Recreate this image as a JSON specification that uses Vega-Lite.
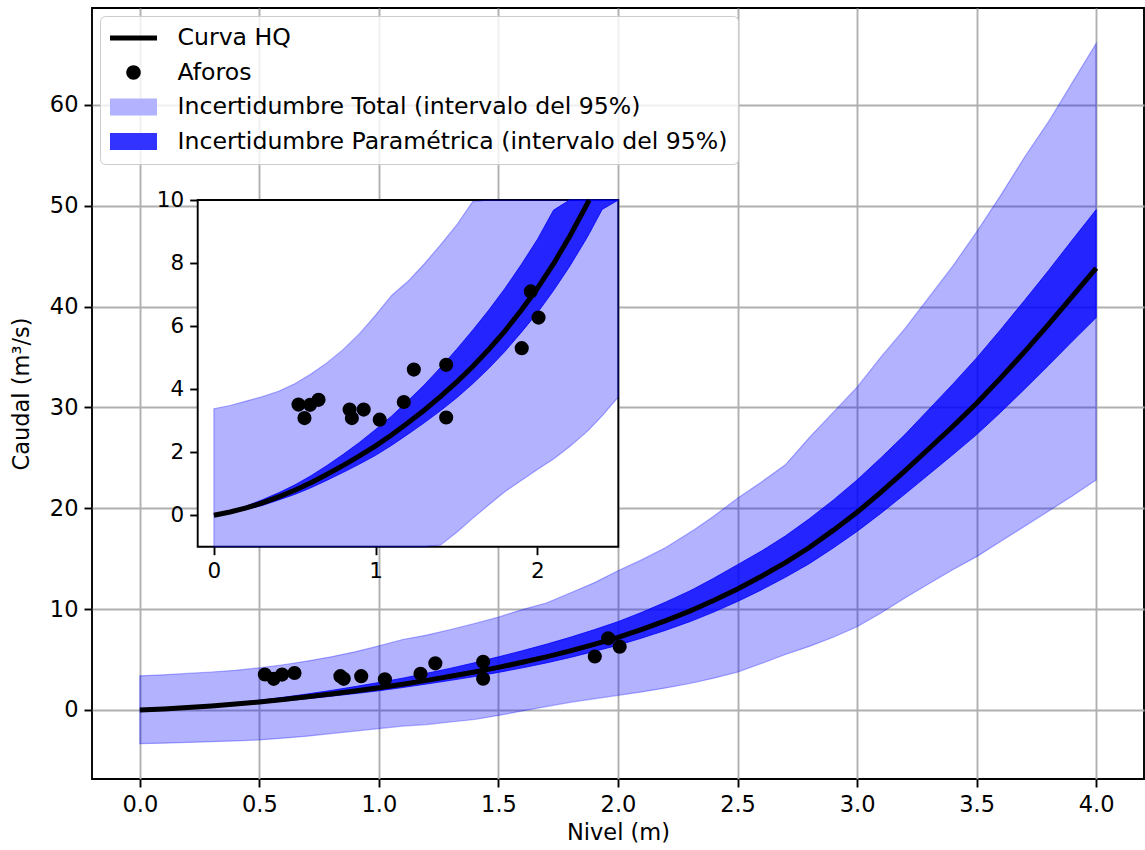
{
  "$schema": "https://vega.github.io/schema/vega-lite/v6.json",
  "width": 1052,
  "height": 771,
  "autosize": {"type": "none"},
  "padding": {"left": 92, "top": 8, "right": 1, "bottom": 71},
  "background": "white",
  "config": {
    "font": "DejaVu Sans",
    "view": {"stroke": "#000000", "strokeWidth": 1.9},
    "axis": {
      "labelFont": "DejaVu Sans", "labelFontSize": 22.5, "labelColor": "#000000",
      "titleFont": "DejaVu Sans", "titleFontSize": 22.5, "titleFontWeight": "normal", "titleColor": "#000000",
      "tickColor": "#000000", "tickSize": 8, "tickWidth": 1.9, "domain": false,
      "gridColor": "#b0b0b0", "gridWidth": 1.9, "gridOpacity": 1, "labelPadding": 6
    }
  },
  "datasets": {
    "curva": [
      {"h": 0.0, "q": 0.0, "pl": 0.0, "pu": 0.0, "tl": -3.35, "tu": 3.38},
      {"h": 0.1, "q": 0.1, "pl": 0.07, "pu": 0.13, "tl": -3.3, "tu": 3.48},
      {"h": 0.2, "q": 0.23, "pl": 0.18, "pu": 0.29, "tl": -3.22, "tu": 3.62},
      {"h": 0.3, "q": 0.39, "pl": 0.31, "pu": 0.49, "tl": -3.15, "tu": 3.76},
      {"h": 0.4, "q": 0.58, "pl": 0.48, "pu": 0.71, "tl": -3.07, "tu": 3.93},
      {"h": 0.5, "q": 0.79, "pl": 0.66, "pu": 0.96, "tl": -2.98, "tu": 4.17},
      {"h": 0.6, "q": 1.03, "pl": 0.87, "pu": 1.25, "tl": -2.8, "tu": 4.48},
      {"h": 0.7, "q": 1.3, "pl": 1.11, "pu": 1.58, "tl": -2.6, "tu": 4.84},
      {"h": 0.8, "q": 1.58, "pl": 1.36, "pu": 1.93, "tl": -2.35, "tu": 5.26},
      {"h": 0.9, "q": 1.88, "pl": 1.62, "pu": 2.31, "tl": -2.1, "tu": 5.76},
      {"h": 1.0, "q": 2.2, "pl": 1.9, "pu": 2.72, "tl": -1.85, "tu": 6.35},
      {"h": 1.1, "q": 2.55, "pl": 2.22, "pu": 3.15, "tl": -1.6, "tu": 6.98},
      {"h": 1.2, "q": 2.93, "pl": 2.57, "pu": 3.63, "tl": -1.45, "tu": 7.42},
      {"h": 1.3, "q": 3.33, "pl": 2.93, "pu": 4.13, "tl": -1.2, "tu": 7.97},
      {"h": 1.4, "q": 3.76, "pl": 3.31, "pu": 4.68, "tl": -0.95, "tu": 8.57},
      {"h": 1.5, "q": 4.22, "pl": 3.72, "pu": 5.26, "tl": -0.55, "tu": 9.2},
      {"h": 1.6, "q": 4.72, "pl": 4.17, "pu": 5.87, "tl": -0.1, "tu": 9.95},
      {"h": 1.7, "q": 5.26, "pl": 4.66, "pu": 6.51, "tl": 0.33, "tu": 10.6},
      {"h": 1.8, "q": 5.85, "pl": 5.2, "pu": 7.2, "tl": 0.75, "tu": 11.6},
      {"h": 1.9, "q": 6.5, "pl": 5.8, "pu": 7.95, "tl": 1.1, "tu": 12.6},
      {"h": 2.0, "q": 7.2, "pl": 6.42, "pu": 8.75, "tl": 1.45, "tu": 13.8},
      {"h": 2.1, "q": 7.98, "pl": 7.13, "pu": 9.68, "tl": 1.78, "tu": 14.9},
      {"h": 2.2, "q": 8.85, "pl": 7.9, "pu": 10.7, "tl": 2.18, "tu": 16.1},
      {"h": 2.3, "q": 9.8, "pl": 8.75, "pu": 11.8, "tl": 2.62, "tu": 17.6},
      {"h": 2.32, "q": 10.0, "pl": 8.93, "pu": 12.04, "tl": 2.72, "tu": 17.9},
      {"h": 2.4, "q": 10.85, "pl": 9.7, "pu": 13.05, "tl": 3.15, "tu": 19.2},
      {"h": 2.5, "q": 12.0, "pl": 10.75, "pu": 14.4, "tl": 3.75, "tu": 21.0},
      {"h": 2.6, "q": 13.25, "pl": 11.9, "pu": 15.75, "tl": 4.6, "tu": 22.6},
      {"h": 2.7, "q": 14.6, "pl": 13.15, "pu": 17.25, "tl": 5.5, "tu": 24.3},
      {"h": 2.8, "q": 16.1, "pl": 14.5, "pu": 18.95, "tl": 6.3, "tu": 27.0},
      {"h": 2.9, "q": 17.8, "pl": 16.05, "pu": 20.8, "tl": 7.2, "tu": 29.5},
      {"h": 3.0, "q": 19.6, "pl": 17.7, "pu": 22.8, "tl": 8.25, "tu": 32.0},
      {"h": 3.1, "q": 21.6, "pl": 19.5, "pu": 25.0, "tl": 9.6, "tu": 35.0},
      {"h": 3.2, "q": 23.7, "pl": 21.4, "pu": 27.3, "tl": 11.1, "tu": 37.8},
      {"h": 3.3, "q": 25.9, "pl": 23.35, "pu": 29.8, "tl": 12.5, "tu": 40.9},
      {"h": 3.4, "q": 28.1, "pl": 25.3, "pu": 32.3, "tl": 13.9, "tu": 44.0},
      {"h": 3.5, "q": 30.4, "pl": 27.3, "pu": 34.9, "tl": 15.2, "tu": 47.4},
      {"h": 3.6, "q": 32.9, "pl": 29.5, "pu": 37.7, "tl": 16.7, "tu": 51.0},
      {"h": 3.7, "q": 35.5, "pl": 31.8, "pu": 40.6, "tl": 18.2, "tu": 54.8},
      {"h": 3.8, "q": 38.2, "pl": 34.15, "pu": 43.55, "tl": 19.7, "tu": 58.3},
      {"h": 3.9, "q": 41.0, "pl": 36.55, "pu": 46.6, "tl": 21.2, "tu": 62.2},
      {"h": 4.0, "q": 43.8, "pl": 38.9, "pu": 49.6, "tl": 22.8, "tu": 66.1}
    ],
    "aforos": [
      {"h": 0.523, "q": 3.51}, {"h": 0.56, "q": 3.08}, {"h": 0.595, "q": 3.5}, {"h": 0.647, "q": 3.66},
      {"h": 0.839, "q": 3.35}, {"h": 0.853, "q": 3.08}, {"h": 0.926, "q": 3.35}, {"h": 1.025, "q": 3.03},
      {"h": 1.174, "q": 3.59}, {"h": 1.236, "q": 4.62}, {"h": 1.436, "q": 4.77}, {"h": 1.436, "q": 3.1},
      {"h": 1.903, "q": 5.3}, {"h": 1.959, "q": 7.1}, {"h": 2.007, "q": 6.27}
    ],
    "leyenda": [
      {"serie": "Curva HQ"},
      {"serie": "Aforos"},
      {"serie": "Incertidumbre Total (intervalo del 95%)"},
      {"serie": "Incertidumbre Paramétrica (intervalo del 95%)"}
    ],
    "marco": [
      {"x0": -0.1, "x1": 2.5, "y0": -1, "y1": 10}
    ]
  },
  "layer": [
    {
      "data": {"name": "curva"},
      "mark": {"type": "area", "fill": "#0000ff", "fillOpacity": 0.3, "stroke": "#0000ff", "strokeOpacity": 0.3, "strokeWidth": 1.2},
      "encoding": {
        "x": {"field": "h", "type": "quantitative", "scale": {"domain": [-0.2, 4.2], "nice": false, "zero": false},
              "axis": {"title": "Nivel (m)", "orient": "bottom", "values": [0, 0.5, 1, 1.5, 2, 2.5, 3, 3.5, 4], "format": ".1f", "grid": true, "titlePadding": 6}},
        "y": {"field": "tl", "type": "quantitative", "scale": {"domain": [-6.85, 69.6], "nice": false, "zero": false},
              "axis": {"title": "Caudal (m³/s)", "orient": "left", "values": [0, 10, 20, 30, 40, 50, 60], "grid": true, "titlePadding": 16}},
        "y2": {"field": "tu"}
      }
    },
    {
      "data": {"name": "curva"},
      "mark": {"type": "area", "fill": "#0000ff", "fillOpacity": 0.8, "stroke": "#0000ff", "strokeOpacity": 0.8, "strokeWidth": 1},
      "encoding": {
        "x": {"field": "h", "type": "quantitative", "scale": {"domain": [-0.2, 4.2], "nice": false, "zero": false}, "axis": null},
        "y": {"field": "pl", "type": "quantitative", "scale": {"domain": [-6.85, 69.6], "nice": false, "zero": false}, "axis": null},
        "y2": {"field": "pu"}
      }
    },
    {
      "data": {"name": "curva"},
      "mark": {"type": "line", "color": "#000000", "strokeWidth": 5},
      "encoding": {
        "x": {"field": "h", "type": "quantitative", "scale": {"domain": [-0.2, 4.2], "nice": false, "zero": false}, "axis": null},
        "y": {"field": "q", "type": "quantitative", "scale": {"domain": [-6.85, 69.6], "nice": false, "zero": false}, "axis": null}
      }
    },
    {
      "data": {"name": "aforos"},
      "mark": {"type": "point", "filled": true, "color": "#000000", "opacity": 1, "size": 200},
      "encoding": {
        "x": {"field": "h", "type": "quantitative", "scale": {"domain": [-0.2, 4.2], "nice": false, "zero": false}, "axis": null},
        "y": {"field": "q", "type": "quantitative", "scale": {"domain": [-6.85, 69.6], "nice": false, "zero": false}, "axis": null}
      }
    },
    {
      "data": {"name": "marco"},
      "mark": {"type": "rect", "fill": "#ffffff", "stroke": "#000000", "strokeWidth": 1.9},
      "encoding": {
        "x": {"field": "x0", "type": "quantitative",
              "scale": {"domain": [-0.1, 2.5], "range": [105.7, 526.3], "nice": false, "zero": false, "clamp": true},
              "axis": {"title": null, "orient": "bottom", "offset": -232.3, "values": [0, 1, 2], "format": "d", "grid": false, "domain": false, "zindex": 1, "labelFontSize": 21.5}},
        "x2": {"field": "x1"},
        "y": {"field": "y0", "type": "quantitative",
              "scale": {"domain": [-1, 10], "range": [538.7, 192], "nice": false, "zero": false, "clamp": true},
              "axis": {"title": null, "orient": "left", "offset": -105.7, "values": [0, 2, 4, 6, 8, 10], "grid": false, "domain": false, "zindex": 1, "labelFontSize": 21.5}},
        "y2": {"field": "y1"}
      }
    },
    {
      "data": {"name": "curva"},
      "transform": [{"filter": "datum.h <= 2.5"}],
      "mark": {"type": "area", "fill": "#0000ff", "fillOpacity": 0.3, "stroke": "#0000ff", "strokeOpacity": 0.3, "strokeWidth": 1.2},
      "encoding": {
        "x": {"field": "h", "type": "quantitative", "scale": {"domain": [-0.1, 2.5], "range": [105.7, 526.3], "nice": false, "zero": false, "clamp": true}, "axis": null},
        "y": {"field": "tl", "type": "quantitative", "scale": {"domain": [-1, 10], "range": [538.7, 192], "nice": false, "zero": false, "clamp": true}, "axis": null},
        "y2": {"field": "tu"}
      }
    },
    {
      "data": {"name": "curva"},
      "transform": [{"filter": "datum.h <= 2.5"}],
      "mark": {"type": "area", "fill": "#0000ff", "fillOpacity": 0.8, "stroke": "#0000ff", "strokeOpacity": 0.8, "strokeWidth": 1},
      "encoding": {
        "x": {"field": "h", "type": "quantitative", "scale": {"domain": [-0.1, 2.5], "range": [105.7, 526.3], "nice": false, "zero": false, "clamp": true}, "axis": null},
        "y": {"field": "pl", "type": "quantitative", "scale": {"domain": [-1, 10], "range": [538.7, 192], "nice": false, "zero": false, "clamp": true}, "axis": null},
        "y2": {"field": "pu"}
      }
    },
    {
      "data": {"name": "curva"},
      "transform": [{"filter": "datum.h <= 2.32"}],
      "mark": {"type": "line", "color": "#000000", "strokeWidth": 5},
      "encoding": {
        "x": {"field": "h", "type": "quantitative", "scale": {"domain": [-0.1, 2.5], "range": [105.7, 526.3], "nice": false, "zero": false, "clamp": true}, "axis": null},
        "y": {"field": "q", "type": "quantitative", "scale": {"domain": [-1, 10], "range": [538.7, 192], "nice": false, "zero": false, "clamp": true}, "axis": null}
      }
    },
    {
      "data": {"name": "aforos"},
      "mark": {"type": "point", "filled": true, "color": "#000000", "opacity": 1, "size": 200},
      "encoding": {
        "x": {"field": "h", "type": "quantitative", "scale": {"domain": [-0.1, 2.5], "range": [105.7, 526.3], "nice": false, "zero": false, "clamp": true}, "axis": null},
        "y": {"field": "q", "type": "quantitative", "scale": {"domain": [-1, 10], "range": [538.7, 192], "nice": false, "zero": false, "clamp": true}, "axis": null}
      }
    },
    {
      "data": {"name": "leyenda"},
      "mark": {"type": "point", "filled": true, "size": 0, "strokeWidth": 0},
      "encoding": {
        "color": {
          "field": "serie", "type": "nominal",
          "scale": {
            "domain": ["Curva HQ", "Aforos", "Incertidumbre Total (intervalo del 95%)", "Incertidumbre Paramétrica (intervalo del 95%)"],
            "range": ["#000000", "#000000", "#b2b2ff", "#3333ff"]
          },
          "legend": {
            "title": null, "orient": "top-left", "offset": 8, "padding": 10,
            "labelFont": "DejaVu Sans", "labelFontSize": 23.6, "labelColor": "#000000", "labelOffset": 32,
            "symbolSize": 576, "symbolOffset": 11.5, "symbolStrokeWidth": 0, "symbolOpacity": 1, "rowPadding": 10.5,
            "strokeColor": "#cccccc", "fillColor": "rgba(255,255,255,0.8)", "cornerRadius": 5, "labelLimit": 800
          }
        },
        "shape": {
          "field": "serie", "type": "nominal",
          "scale": {
            "domain": ["Curva HQ", "Aforos", "Incertidumbre Total (intervalo del 95%)", "Incertidumbre Paramétrica (intervalo del 95%)"],
            "range": ["M-1.958,-0.208H1.958V0.208H-1.958Z", "M-0.604,0A0.604,0.604,0,1,1,0.604,0A0.604,0.604,0,1,1,-0.604,0Z", "M-1.958,-0.708H1.958V0.708H-1.958Z", "M-1.958,-0.708H1.958V0.708H-1.958Z"]
          },
          "legend": {
            "title": null, "orient": "top-left", "offset": 8, "padding": 10,
            "labelFont": "DejaVu Sans", "labelFontSize": 23.6, "labelColor": "#000000", "labelOffset": 32,
            "symbolSize": 576, "symbolOffset": 11.5, "symbolStrokeWidth": 0, "symbolOpacity": 1, "rowPadding": 10.5,
            "strokeColor": "#cccccc", "fillColor": "rgba(255,255,255,0.8)", "cornerRadius": 5, "labelLimit": 800
          }
        }
      }
    }
  ],
  "resolve": {
    "scale": {"x": "independent", "y": "independent"},
    "axis": {"x": "independent", "y": "independent"}
  }
}
